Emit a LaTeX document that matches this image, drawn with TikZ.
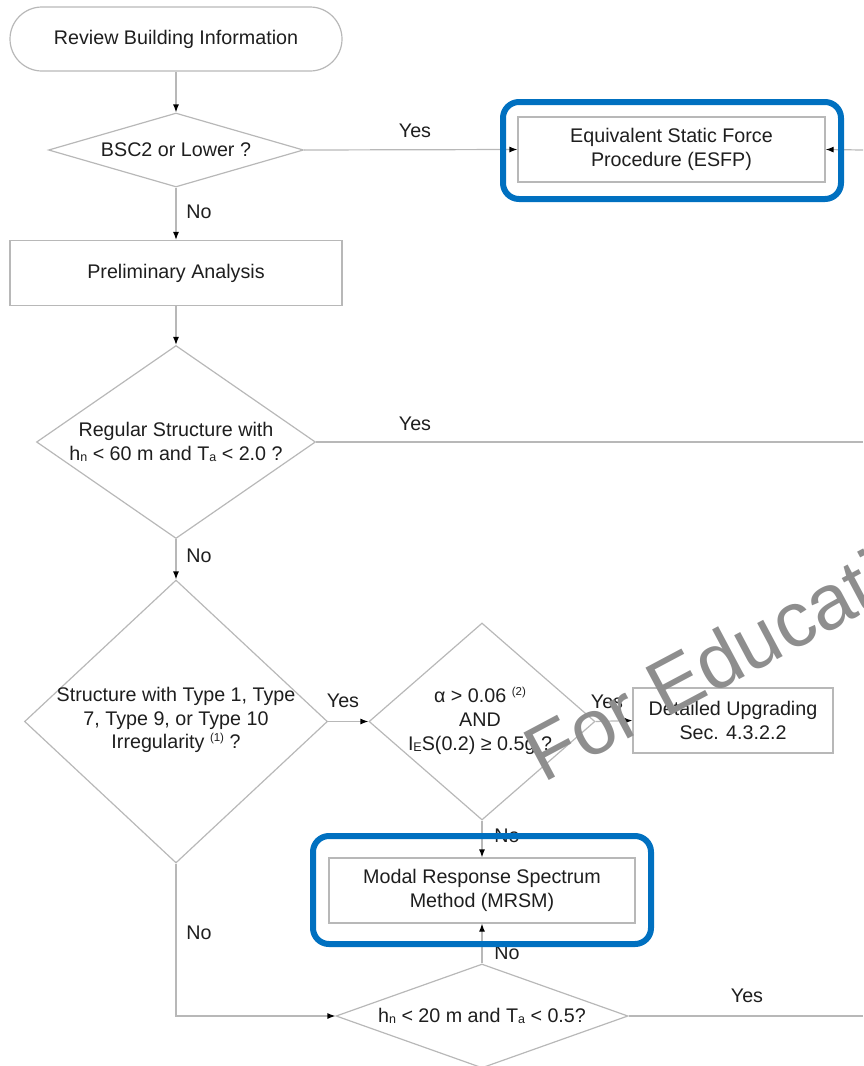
\documentclass[tikz,border=0pt]{standalone}
\usepackage{fontspec}
\setmainfont{Liberation Sans}
\usetikzlibrary{shapes.geometric,arrows.meta,calc}
\definecolor{ln}{HTML}{B8B8B8}
\definecolor{hl}{HTML}{0070C0}
\definecolor{wm}{HTML}{8E8E8E}
\definecolor{tx}{HTML}{1E1E1E}
\newcommand{\sbs}[1]{\raisebox{-1pt}{\fontsize{12.5}{12.5}\selectfont #1}}
\newcommand{\sps}[1]{\raisebox{7pt}{\fontsize{11.5}{11.5}\selectfont #1}}
\begin{document}
\begin{tikzpicture}[x=1pt,y=-1pt,
  every node/.style={text=tx, font=\fontsize{19.7}{23.8}\selectfont},
  shp/.style={draw=ln, line width=1.2pt, inner sep=0pt},
  term/.style={shp, rectangle, rounded corners=32pt, minimum width=332pt, minimum height=64pt},
  proc/.style={shp, rectangle, align=center},
  dec/.style={shp, diamond},
  txt/.style={align=center, inner sep=0pt},
  lbl/.style={inner sep=0pt},
  conn/.style={draw=ln, line width=1.2pt},
  arr/.style={conn, -{Latex[length=8pt,width=6pt,color=black]}},
  hilite/.style={draw=hl, line width=6pt, rounded corners=16pt, inner sep=0pt}
]
\useasboundingbox (0,0) rectangle (863,1066);
\clip (0,0) rectangle (863,1066);

% nodes
\node[term] (start) at (176,39) {Review Building Information};
\node[dec, minimum width=255pt, minimum height=74pt] (d1) at (176,150) {};
\node[txt] (d1t) at (176,150) {BSC2 or Lower ?};
\node[proc, minimum width=307pt, minimum height=65pt] (esfp) at (671.5,149.5) {Equivalent Static Force\\Procedure (ESFP)};
\node[proc, minimum width=332pt, minimum height=65pt] (prelim) at (176,273) {Preliminary Analysis};
\node[dec, minimum width=279pt, minimum height=193pt] (d2) at (176,442) {};
\node[txt] (d2t) at (176,442) {Regular Structure with\\h\sbs{n} < 60 m and T\sbs{a} < 2.0 ?};
\node[dec, minimum width=303pt, minimum height=283pt] (d3) at (176,721.5) {};
\node[txt] (d3t) at (176,720) {Structure with Type 1, Type\\7, Type 9, or Type 10\\Irregularity \sps{(1)} ?};
\node[dec, minimum width=226pt, minimum height=197pt] (d4) at (482,721.5) {};
\node[txt] (d4t) at (480,721) {α > 0.06 \sps{(2)}\\AND\\I\sbs{E}S(0.2) ≥ 0.5g ?};
\node[proc, minimum width=200pt, minimum height=65pt] (detail) at (733,720.5) {Detailed Upgrading\\Sec. 4.3.2.2};
\node[proc, minimum width=306pt, minimum height=65pt] (mrsm) at (482,890.5) {Modal Response Spectrum\\Method (MRSM)};
\node[dec, minimum width=292pt, minimum height=104pt] (d5) at (482,1016) {};
\node[txt] (d5t) at (482,1016) {h\sbs{n} < 20 m and T\sbs{a} < 0.5?};

\coordinate (eR) at (863,150);
\coordinate (d2R) at (863,442);
\coordinate (d5R) at (863,1016);

% connectors
\draw[arr] (start.south) -- (d1.north);
\draw[arr] (d1.east) -- (esfp.west);
\draw[arr] (d1.south) -- (prelim.north);
\draw[arr] (prelim.south) -- (d2.north);
\draw[conn] (d2.east) -- (d2R);
\draw[arr] (d2.south) -- (d3.north);
\draw[arr] (d3.east) -- (d4.west);
\draw[arr] (d4.east) -- (detail.west);
\draw[arr] (d4.south) -- (mrsm.north);
\draw[arr] (d5.north) -- (mrsm.south);
\draw[arr] (d3.south) |- (d5.west);
\draw[conn] (d5.east) -- (d5R);
\draw[arr] (eR) -- (esfp.east);

% labels
\node[lbl] (y1) at (415,131) {Yes};
\node[lbl] (n1) at (199,212) {No};
\node[lbl] (y2) at (415,424) {Yes};
\node[lbl] (n2) at (199,556) {No};
\node[lbl] (y3) at (343,701) {Yes};
\node[lbl] (y4) at (607,702) {Yes};
\node[lbl] (n4) at (507,836) {No};
\node[lbl] (n5) at (507,953) {No};
\node[lbl] (n3) at (199,933) {No};
\node[lbl] (y5) at (747,996) {Yes};

% highlights
\node[hilite, minimum width=338pt, minimum height=97pt] (esfpH) at (672,150.5) {};
\node[hilite, minimum width=338pt, minimum height=108pt] (mrsmH) at (482,890) {};

% watermark
\node[rotate=28, anchor=base west, inner sep=0pt, text=wm, font=\fontsize{78}{78}\selectfont] (wmk) at (543,784) {For Education};
\end{tikzpicture}
\end{document}
